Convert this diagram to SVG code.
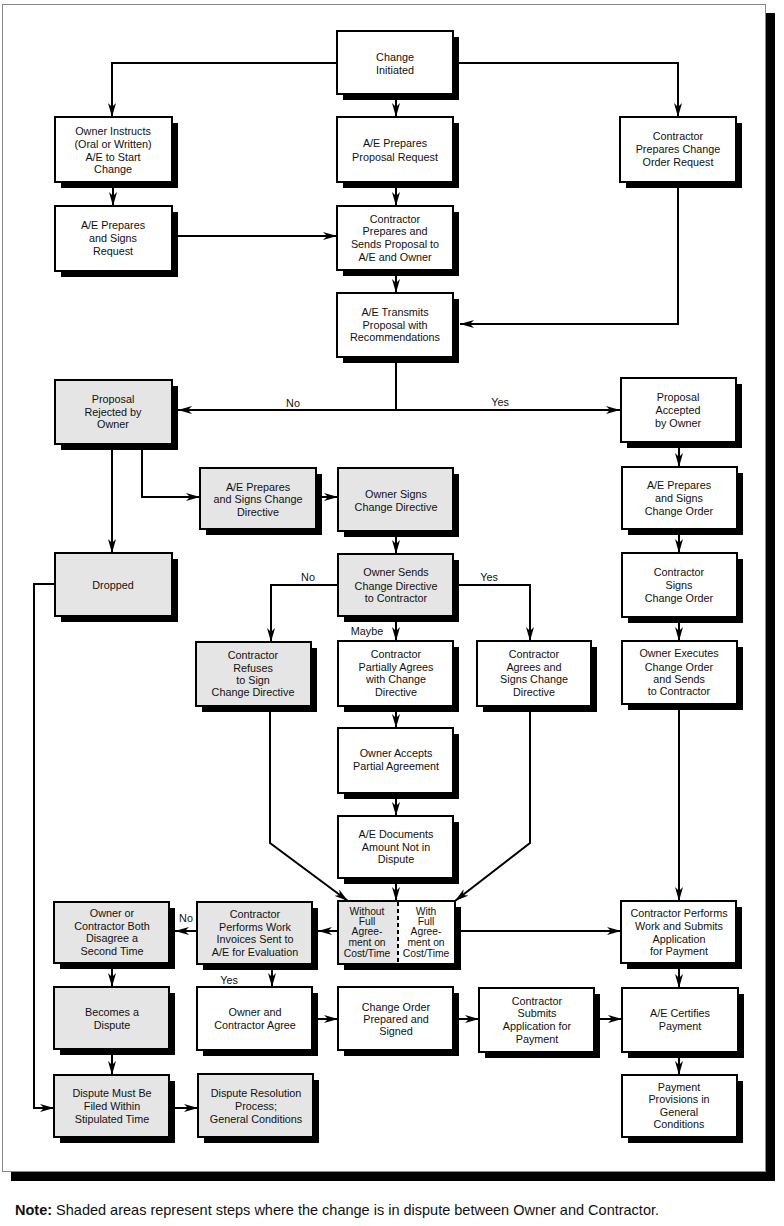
<svg xmlns="http://www.w3.org/2000/svg" width="784" height="1226" viewBox="0 0 784 1226">
<style>
.sh{fill:#000}
.bx{fill:#fff;stroke:#000;stroke-width:2}
.gr{fill:#e5e5e5}
.t{font-family:"Liberation Sans",Arial,sans-serif;font-size:10.8px;fill:#111;text-anchor:middle}
.ts{font-family:"Liberation Sans",Arial,sans-serif;font-size:10.3px;fill:#111;text-anchor:middle}
.lb{font-family:"Liberation Sans",Arial,sans-serif;font-size:10.8px;fill:#111;text-anchor:middle}
.c{fill:none;stroke:#000;stroke-width:2;marker-end:url(#ah)}
.note{font-family:"Liberation Sans",Arial,sans-serif;font-size:14.5px;fill:#111}
</style>
<defs>
<marker id="ah" markerUnits="userSpaceOnUse" viewBox="0 0 14 8" markerWidth="14" markerHeight="8" refX="14" refY="4" orient="auto">
<path d="M0,0 L14,4 L0,8 L4,4 z" fill="#000"/>
</marker>
</defs>
<rect x="0" y="0" width="784" height="1226" fill="#fff"/>
<g id="frame">
<rect x="11" y="13" width="764" height="1168" fill="#000"/>
<rect x="2.5" y="4.5" width="763" height="1167" fill="#fff" stroke="#888" stroke-width="1"/>
</g>
<g id="connectors">
<path class="c" d="M337,63 H112 V117"/>
<path class="c" d="M459,63 H678 V117"/>
<path class="c" d="M396,100 V117"/>
<path class="c" d="M113,188 V206"/>
<path class="c" d="M396,188 V206"/>
<path class="c" d="M178,236 H337"/>
<path class="c" d="M396,276 V293"/>
<path class="c" d="M678,188 V324 H460"/>
<path class="c" d="M396,363 V410 H178"/>
<path class="c" d="M396,410 H620"/>
<path class="c" d="M112,450 V553"/>
<path class="c" d="M142,450 V497 H200"/>
<path class="c" d="M322,497 H338"/>
<path class="c" d="M396,537 V554"/>
<path class="c" d="M338,585 H271 V642"/>
<path class="c" d="M459,585 H530 V641"/>
<path class="c" d="M396,622 V641"/>
<path class="c" d="M679,448 V467"/>
<path class="c" d="M679,535 V553"/>
<path class="c" d="M679,623 V641"/>
<path class="c" d="M679,710 V901"/>
<path class="c" d="M396,712 V728"/>
<path class="c" d="M396,799 V816"/>
<path class="c" d="M396,884 V901"/>
<path class="c" d="M270,712 V843 L348,901"/>
<path class="c" d="M530,712 V843 L455,901"/>
<path class="c" d="M338,931 H318"/>
<path class="c" d="M197,931 H175"/>
<path class="c" d="M272,970 V987"/>
<path class="c" d="M461,931 H621"/>
<path class="c" d="M112,969 V987"/>
<path class="c" d="M318,1019 H338"/>
<path class="c" d="M459,1019 H479"/>
<path class="c" d="M600,1019 H622"/>
<path class="c" d="M679,969 V988"/>
<path class="c" d="M679,1058 V1075"/>
<path class="c" d="M112,1055 V1075"/>
<path class="c" d="M175,1108 H198"/>
<path class="c" d="M55,584 H34 V1108 H54"/>
<text class="lb" x="293" y="407">No</text>
<text class="lb" x="500" y="406">Yes</text>
<text class="lb" x="308" y="581">No</text>
<text class="lb" x="489" y="581">Yes</text>
<text class="lb" x="367" y="635">Maybe</text>
<text class="lb" x="186" y="922">No</text>
<text class="lb" x="229" y="984">Yes</text>
</g>
<g id="n_change"><rect class="sh" x="343" y="37" width="116" height="63"/><rect class="bx" x="337" y="31" width="116" height="63"/><text class="t" x="395" y="61">Change</text><text class="t" x="395" y="74">Initiated</text></g>
<g id="n_owner_instructs"><rect class="sh" x="61" y="123" width="117" height="65"/><rect class="bx" x="55" y="117" width="117" height="65"/><text class="t" x="113" y="135">Owner Instructs</text><text class="t" x="113" y="148">(Oral or Written)</text><text class="t" x="113" y="161">A/E to Start</text><text class="t" x="113" y="173">Change</text></g>
<g id="n_ae_proposal_req"><rect class="sh" x="343" y="123" width="116" height="65"/><rect class="bx" x="337" y="117" width="116" height="65"/><text class="t" x="395" y="147">A/E Prepares</text><text class="t" x="395" y="161">Proposal Request</text></g>
<g id="n_contractor_cor"><rect class="sh" x="626" y="123" width="116" height="65"/><rect class="bx" x="620" y="117" width="116" height="65"/><text class="t" x="678" y="140">Contractor</text><text class="t" x="678" y="153">Prepares Change</text><text class="t" x="678" y="166">Order Request</text></g>
<g id="n_ae_signs_req"><rect class="sh" x="61" y="212" width="117" height="65"/><rect class="bx" x="55" y="206" width="117" height="65"/><text class="t" x="113" y="229">A/E Prepares</text><text class="t" x="113" y="242">and Signs</text><text class="t" x="113" y="255">Request</text></g>
<g id="n_contractor_proposal"><rect class="sh" x="343" y="212" width="116" height="64"/><rect class="bx" x="337" y="206" width="116" height="64"/><text class="t" x="395" y="223">Contractor</text><text class="t" x="395" y="235">Prepares and</text><text class="t" x="395" y="248">Sends Proposal to</text><text class="t" x="395" y="261">A/E and Owner</text></g>
<g id="n_ae_transmits"><rect class="sh" x="343" y="299" width="116" height="64"/><rect class="bx" x="337" y="293" width="116" height="64"/><text class="t" x="395" y="316">A/E Transmits</text><text class="t" x="395" y="329">Proposal with</text><text class="t" x="395" y="341">Recommendations</text></g>
<g id="n_rejected"><rect class="sh" x="61" y="386" width="117" height="64"/><rect class="bx gr" x="55" y="380" width="117" height="64"/><text class="t" x="113" y="403">Proposal</text><text class="t" x="113" y="416">Rejected by</text><text class="t" x="113" y="428">Owner</text></g>
<g id="n_accepted"><rect class="sh" x="627" y="384" width="115" height="64"/><rect class="bx" x="621" y="378" width="115" height="64"/><text class="t" x="678" y="401">Proposal</text><text class="t" x="678" y="414">Accepted</text><text class="t" x="678" y="427">by Owner</text></g>
<g id="n_ae_cd"><rect class="sh" x="206" y="474" width="116" height="61"/><rect class="bx gr" x="200" y="468" width="116" height="61"/><text class="t" x="258" y="491">A/E Prepares</text><text class="t" x="258" y="503">and Signs Change</text><text class="t" x="258" y="516">Directive</text></g>
<g id="n_owner_signs_cd"><rect class="sh" x="344" y="474" width="115" height="63"/><rect class="bx gr" x="338" y="468" width="115" height="63"/><text class="t" x="396" y="498">Owner Signs</text><text class="t" x="396" y="511">Change Directive</text></g>
<g id="n_ae_co"><rect class="sh" x="628" y="473" width="115" height="62"/><rect class="bx" x="622" y="467" width="115" height="62"/><text class="t" x="679" y="489">A/E Prepares</text><text class="t" x="679" y="502">and Signs</text><text class="t" x="679" y="515">Change Order</text></g>
<g id="n_dropped"><rect class="sh" x="61" y="559" width="117" height="63"/><rect class="bx gr" x="55" y="553" width="117" height="63"/><text class="t" x="113" y="589">Dropped</text></g>
<g id="n_owner_sends_cd"><rect class="sh" x="344" y="560" width="115" height="62"/><rect class="bx gr" x="338" y="554" width="115" height="62"/><text class="t" x="396" y="576">Owner Sends</text><text class="t" x="396" y="590">Change Directive</text><text class="t" x="396" y="602">to Contractor</text></g>
<g id="n_contractor_signs_co"><rect class="sh" x="628" y="559" width="115" height="64"/><rect class="bx" x="622" y="553" width="115" height="64"/><text class="t" x="679" y="576">Contractor</text><text class="t" x="679" y="589">Signs</text><text class="t" x="679" y="602">Change Order</text></g>
<g id="n_refuses"><rect class="sh" x="202" y="648" width="115" height="64"/><rect class="bx gr" x="196" y="642" width="115" height="64"/><text class="t" x="253" y="659">Contractor</text><text class="t" x="253" y="672">Refuses</text><text class="t" x="253" y="684">to Sign</text><text class="t" x="253" y="696">Change Directive</text></g>
<g id="n_partial"><rect class="sh" x="344" y="647" width="115" height="65"/><rect class="bx" x="338" y="641" width="115" height="65"/><text class="t" x="396" y="658">Contractor</text><text class="t" x="396" y="671">Partially Agrees</text><text class="t" x="396" y="683">with Change</text><text class="t" x="396" y="696">Directive</text></g>
<g id="n_agrees"><rect class="sh" x="483" y="647" width="114" height="65"/><rect class="bx" x="477" y="641" width="114" height="65"/><text class="t" x="534" y="658">Contractor</text><text class="t" x="534" y="671">Agrees and</text><text class="t" x="534" y="683">Signs Change</text><text class="t" x="534" y="696">Directive</text></g>
<g id="n_executes"><rect class="sh" x="628" y="647" width="115" height="63"/><rect class="bx" x="622" y="641" width="115" height="63"/><text class="t" x="679" y="657">Owner Executes</text><text class="t" x="679" y="671">Change Order</text><text class="t" x="679" y="683">and Sends</text><text class="t" x="679" y="695">to Contractor</text></g>
<g id="n_accepts_partial"><rect class="sh" x="344" y="734" width="115" height="65"/><rect class="bx" x="338" y="728" width="115" height="65"/><text class="t" x="396" y="757">Owner Accepts</text><text class="t" x="396" y="770">Partial Agreement</text></g>
<g id="n_ae_documents"><rect class="sh" x="344" y="822" width="115" height="62"/><rect class="bx" x="338" y="816" width="115" height="62"/><text class="t" x="396" y="838">A/E Documents</text><text class="t" x="396" y="851">Amount Not in</text><text class="t" x="396" y="863">Dispute</text></g>
<g id="n_split"><rect class="sh" x="344" y="907" width="117" height="63"/><rect class="bx" x="338" y="901" width="117" height="63"/><rect class="gr" x="339" y="902" width="59" height="61"/><line x1="398" y1="902" x2="398" y2="963" stroke="#000" stroke-width="2" stroke-dasharray="4,3"/><text class="ts" x="367" y="915">Without</text><text class="ts" x="367" y="925">Full</text><text class="ts" x="367" y="935">Agree-</text><text class="ts" x="367" y="946">ment on</text><text class="ts" x="367" y="957">Cost/Time</text><text class="ts" x="426" y="915">With</text><text class="ts" x="426" y="925">Full</text><text class="ts" x="426" y="935">Agree-</text><text class="ts" x="426" y="946">ment on</text><text class="ts" x="426" y="957">Cost/Time</text></g>
<g id="n_disagree"><rect class="sh" x="60" y="908" width="115" height="61"/><rect class="bx gr" x="54" y="902" width="115" height="61"/><text class="t" x="112" y="917">Owner or</text><text class="t" x="112" y="930">Contractor Both</text><text class="t" x="112" y="942">Disagree a</text><text class="t" x="112" y="955">Second Time</text></g>
<g id="n_performs_invoices"><rect class="sh" x="203" y="908" width="115" height="62"/><rect class="bx gr" x="197" y="902" width="115" height="62"/><text class="t" x="255" y="918">Contractor</text><text class="t" x="255" y="931">Performs Work</text><text class="t" x="255" y="943">Invoices Sent to</text><text class="t" x="255" y="956">A/E for Evaluation</text></g>
<g id="n_performs_submits"><rect class="sh" x="627" y="907" width="115" height="62"/><rect class="bx" x="621" y="901" width="115" height="62"/><text class="t" x="679" y="917">Contractor Performs</text><text class="t" x="679" y="930">Work and Submits</text><text class="t" x="679" y="943">Application</text><text class="t" x="679" y="955">for Payment</text></g>
<g id="n_becomes_dispute"><rect class="sh" x="60" y="993" width="115" height="62"/><rect class="bx gr" x="54" y="987" width="115" height="62"/><text class="t" x="112" y="1016">Becomes a</text><text class="t" x="112" y="1029">Dispute</text></g>
<g id="n_agree"><rect class="sh" x="203" y="993" width="115" height="63"/><rect class="bx" x="197" y="987" width="115" height="63"/><text class="t" x="255" y="1016">Owner and</text><text class="t" x="255" y="1029">Contractor Agree</text></g>
<g id="n_co_prepared"><rect class="sh" x="344" y="993" width="115" height="63"/><rect class="bx" x="338" y="987" width="115" height="63"/><text class="t" x="396" y="1011">Change Order</text><text class="t" x="396" y="1023">Prepared and</text><text class="t" x="396" y="1035">Signed</text></g>
<g id="n_submits_app"><rect class="sh" x="485" y="994" width="115" height="64"/><rect class="bx" x="479" y="988" width="115" height="64"/><text class="t" x="537" y="1005">Contractor</text><text class="t" x="537" y="1017">Submits</text><text class="t" x="537" y="1030">Application for</text><text class="t" x="537" y="1043">Payment</text></g>
<g id="n_certifies"><rect class="sh" x="628" y="994" width="116" height="64"/><rect class="bx" x="622" y="988" width="116" height="64"/><text class="t" x="680" y="1017">A/E Certifies</text><text class="t" x="680" y="1030">Payment</text></g>
<g id="n_provisions"><rect class="sh" x="628" y="1081" width="115" height="62"/><rect class="bx" x="622" y="1075" width="115" height="62"/><text class="t" x="679" y="1091">Payment</text><text class="t" x="679" y="1103">Provisions in</text><text class="t" x="679" y="1116">General</text><text class="t" x="679" y="1128">Conditions</text></g>
<g id="n_filed"><rect class="sh" x="60" y="1081" width="115" height="62"/><rect class="bx gr" x="54" y="1075" width="115" height="62"/><text class="t" x="112" y="1097">Dispute Must Be</text><text class="t" x="112" y="1110">Filed Within</text><text class="t" x="112" y="1123">Stipulated Time</text></g>
<g id="n_resolution"><rect class="sh" x="204" y="1080" width="115" height="63"/><rect class="bx gr" x="198" y="1074" width="115" height="63"/><text class="t" x="256" y="1097">Dispute Resolution</text><text class="t" x="256" y="1110">Process;</text><text class="t" x="256" y="1123">General Conditions</text></g>
<text class="note" x="15" y="1215"><tspan font-weight="bold">Note:</tspan> Shaded areas represent steps where the change is in dispute between Owner and Contractor.</text>
</svg>
